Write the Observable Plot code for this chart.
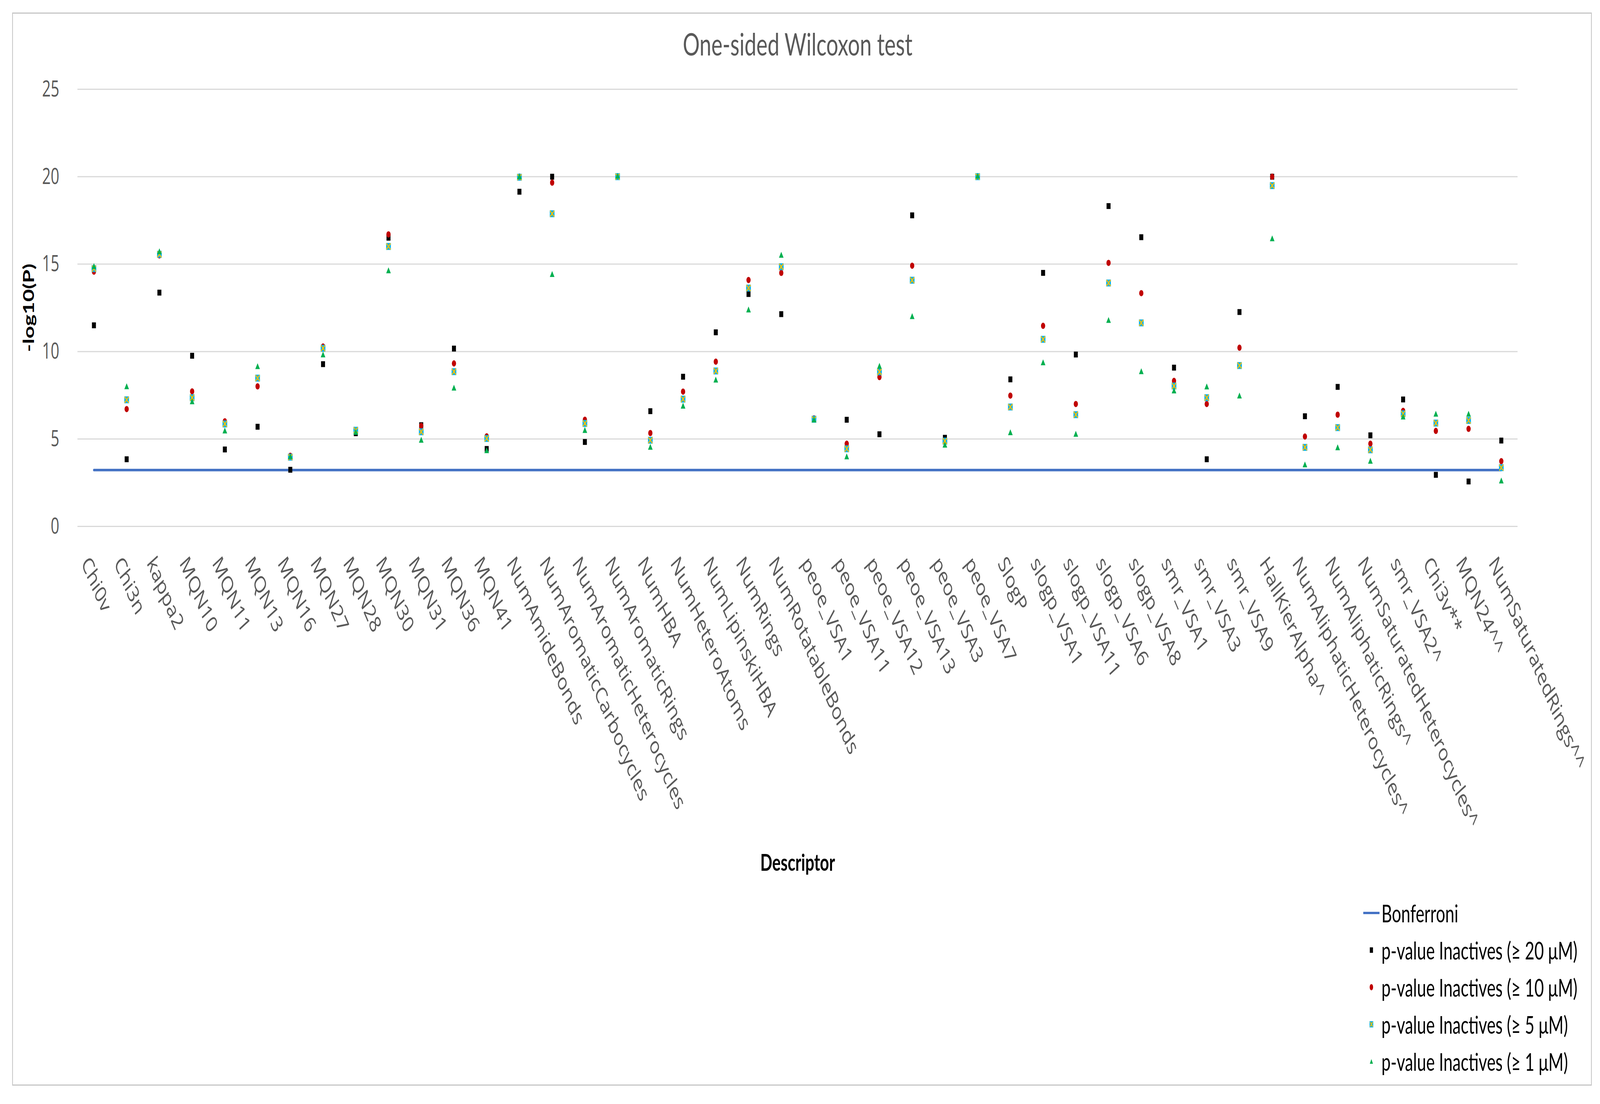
<!DOCTYPE html>
<html>
<head>
<meta charset="utf-8">
<script src="https://cdn.jsdelivr.net/npm/d3@7"></script>
<script src="https://cdn.jsdelivr.net/npm/@observablehq/plot@0.6"></script>
<style>
  html, body { margin: 0; padding: 0; background: #fff; overflow: hidden; }
  #wrap { position: relative; width: 6054px; height: 2826px; background: #fff; overflow: hidden; transform-origin: 0 0; }
  #frame { position: absolute; left: 46px; top: 32px; width: 5971px; height: 2741px; border: 3px solid #c6c6c6; }
  #chart { position: absolute; left: 0; top: 0; }
  #legend { position: absolute; left: 5150px; top: 2289px; font-family: Lato, sans-serif; font-size: 62px; color: #000; }
  .row { display: flex; align-items: center; height: 95px; white-space: nowrap; }
  .sw { width: 77px; display: flex; justify-content: center; align-items: center; }
</style>
</head>
<body>
<div id="wrap">
  <div id="frame"></div>
  <div id="chart"></div>
  <div id="legend"></div>
</div>
<script>
// ---- data ----
const descriptors = ["Chi0v","Chi3n","kappa2","MQN10","MQN11","MQN13","MQN16","MQN27","MQN28","MQN30","MQN31","MQN36","MQN41","NumAmideBonds","NumAromaticCarbocycles","NumAromaticHeterocycles","NumAromaticRings","NumHBA","NumHeteroAtoms","NumLipinskiHBA","NumRings","NumRotatableBonds","peoe_VSA1","peoe_VSA11","peoe_VSA12","peoe_VSA13","peoe_VSA3","peoe_VSA7","SlogP","slogp_VSA1","slogp_VSA11","slogp_VSA6","slogp_VSA8","smr_VSA1","smr_VSA3","smr_VSA9","HallKierAlpha^","NumAliphaticHeterocycles^","NumAliphaticRings^","NumSaturatedHeterocycles^","smr_VSA2^","Chi3v**","MQN24^^","NumSaturatedRings^^"];
const p20 = [11.5,3.84,13.37,9.76,4.40,5.70,3.24,9.28,5.33,16.51,5.79,10.17,4.43,19.14,20.0,4.83,20.0,6.59,8.56,11.10,13.29,12.14,6.10,6.10,5.27,17.79,5.07,20.0,8.41,14.50,9.83,18.32,16.54,9.08,3.84,12.26,20.0,6.30,7.98,5.21,7.26,2.95,2.57,4.91];
const p10 = [14.57,6.71,15.50,7.72,6.01,8.01,4.04,10.29,5.45,16.70,5.75,9.32,5.15,20.0,19.66,6.10,20.0,5.34,7.71,9.42,14.09,14.50,6.18,4.73,8.54,14.91,4.90,20.0,7.48,11.47,7.00,15.07,13.34,8.32,7.00,10.22,20.0,5.14,6.39,4.73,6.61,5.46,5.58,3.73];
const p5  = [14.74,7.24,15.56,7.36,5.86,8.48,3.96,10.19,5.50,16.01,5.41,8.85,5.03,19.97,17.88,5.89,20.0,4.93,7.28,8.89,13.63,14.85,6.13,4.44,8.84,14.08,4.88,20.0,6.83,10.70,6.39,13.92,11.64,8.03,7.36,9.20,19.49,4.52,5.65,4.38,6.44,5.91,6.06,3.36];
const p1  = [14.83,7.96,15.68,7.10,5.43,9.11,3.96,9.78,5.35,14.59,4.90,7.88,4.30,19.97,14.38,5.46,20.0,4.50,6.85,8.34,12.35,15.48,6.06,3.95,9.13,11.97,4.62,20.0,5.33,9.33,5.24,11.75,8.82,7.72,7.95,7.43,16.42,3.49,4.47,3.70,6.23,6.39,6.39,2.57];
const bonferroni = 3.22;
const yTicks = [0,5,10,15,20,25];
const seriesNames = ["Bonferroni","p-value Inactives (\u2265 20 \u03bcM)","p-value Inactives (\u2265 10 \u03bcM)","p-value Inactives (\u2265 5 \u03bcM)","p-value Inactives (\u2265 1 \u03bcM)"];
const titleText = "One-sided Wilcoxon test";
const xTitle = "Descriptor";
const yTitle = "-log10(P)";

// ---- build tables ----
const rows = (vals) => descriptors.map((d, i) => ({d, v: vals[i]}));
const bonfRows = descriptors.map(d => ({d, v: bonferroni}));

const chart = Plot.plot({
  width: 6054,
  height: 2826,
  marginLeft: 293,
  marginRight: 312,
  marginTop: 228,
  marginBottom: 1479,
  style: {fontFamily: "'Open Sans', sans-serif", fontSize: "60px", background: "transparent", overflow: "visible"},
  x: {type: "point", domain: descriptors, padding: 0.5, label: null},
  y: {domain: [0, 25], label: null},
  marks: [
    Plot.gridY(yTicks, {stroke: "#d9d9d9", strokeOpacity: 1, strokeWidth: 3}),
    Plot.axisY(yTicks, {tickSize: 0, tickPadding: 69, fontSize: 57, color: "#595959", label: null}),
    Plot.axisX({tickRotate: 58, tickSize: 0, tickPadding: 84, dx: -33, fontSize: 60, color: "#595959", label: null}),
    Plot.line(bonfRows, {x: "d", y: "v", stroke: "#4472C4", strokeWidth: 6.5}),
    Plot.dot(rows(p20), {x: "d", y: "v", symbol: "square", fill: "#000000", r: 8.5}),
    Plot.dot(rows(p10), {x: "d", y: "v", symbol: "circle", fill: "#C00000", r: 8}),
    Plot.dot(rows(p5), {x: "d", y: "v", symbol: "square", fill: "#00B0F0", r: 10}),
    Plot.dot(rows(p5), {x: "d", y: "v", symbol: "times", stroke: "#FFC000", strokeWidth: 3.5, r: 7}),
    Plot.dot(rows(p1), {x: "d", y: "v", symbol: "triangle", fill: "#00B050", r: 6.5}),
    Plot.text([titleText], {frameAnchor: "top", dy: -112, lineAnchor: "middle", fontSize: 80, fill: "#595959", fontFamily: "Lato, sans-serif"}),
    Plot.text([yTitle], {frameAnchor: "left", dx: -183, rotate: -90, textAnchor: "middle", lineAnchor: "middle", fontSize: 56, fontWeight: "bold", fill: "#000", fontFamily: "Lato, sans-serif"}),
    Plot.text([xTitle], {frameAnchor: "bottom", dy: 862, lineAnchor: "middle", fontSize: 60, fontWeight: "bold", fill: "#000", fontFamily: "Lato, sans-serif"})
  ]
});
document.getElementById("chart").appendChild(chart);

// ---- legend ----
const swatches = [
  '<svg width="62" height="20"><rect x="0" y="7" width="62" height="6" fill="#4472C4"/></svg>',
  '<svg width="16" height="16"><rect x="2" y="1" width="12" height="14" fill="#000"/></svg>',
  '<svg width="16" height="18"><ellipse cx="8" cy="9" rx="6.5" ry="8" fill="#C00000"/></svg>',
  '<svg width="18" height="18"><rect x="2" y="1" width="14" height="16" fill="#00B0F0"/><path d="M4,3L14,15M14,3L4,15" stroke="#FFC000" stroke-width="3"/></svg>',
  '<svg width="16" height="16"><path d="M8,2L14,14L2,14Z" fill="#00B050"/></svg>'
];
const legend = document.getElementById("legend");
seriesNames.forEach((name, i) => {
  const row = document.createElement("div");
  row.className = "row";
  row.innerHTML = '<div class="sw">' + swatches[i] + '</div><div>' + name + '</div>';
  legend.appendChild(row);
});

// fill the viewport (the window may be narrower than the 6054 px chart)
const wrap = document.getElementById("wrap");
const sx = Math.min(1, window.innerWidth / 6054);
const sy = Math.min(1, window.innerHeight / 2826);
if (sx < 1 || sy < 1) wrap.style.transform = "scale(" + sx + "," + sy + ")";
</script>
</body>
</html>
